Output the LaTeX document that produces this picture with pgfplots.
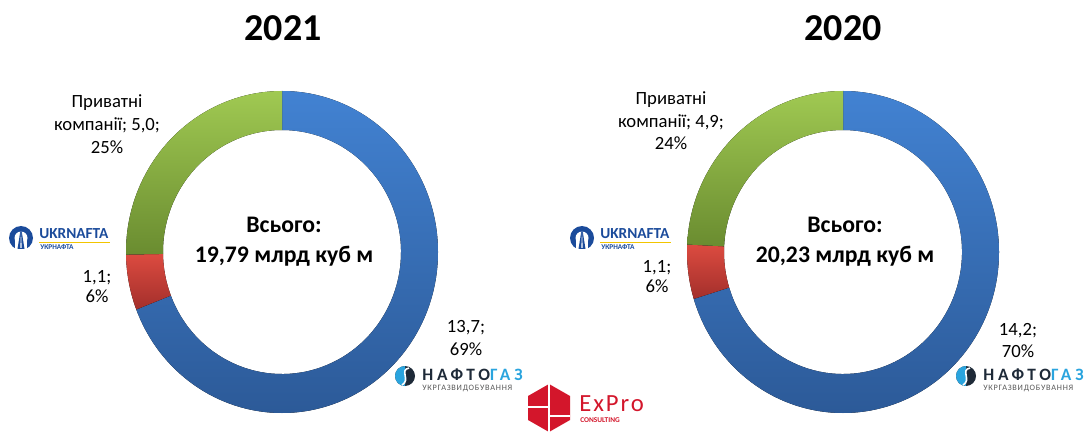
\documentclass[border=0pt]{standalone}
\usepackage{fontspec}
\setmainfont{Carlito}
\usepackage{pgfplots}
\pgfplotsset{compat=1.18}
\usepackage{pgfplotstable}

% production, bcm
\pgfplotstableread{
company value pct
Naftogaz 13.7 69
Ukrnafta 1.1 6
Private 5.0 25
}\dataA
\pgfplotstableread{
company value pct
Naftogaz 14.2 70
Ukrnafta 1.1 6
Private 4.9 24
}\dataB

\definecolor{blueT}{HTML}{4282D2}
\definecolor{blueB}{HTML}{2C5A98}
\definecolor{redT}{HTML}{DC4B40}
\definecolor{redB}{HTML}{A32F2B}
\definecolor{greenT}{HTML}{A0C952}
\definecolor{greenB}{HTML}{6A8C30}
\definecolor{ukblue}{HTML}{1B4B9B}
\definecolor{ukyellow}{HTML}{F2C500}
\definecolor{ngdark}{HTML}{1E2A38}
\definecolor{ngblue}{HTML}{2AA4DE}
\definecolor{exred}{HTML}{D3162B}

\newcommand\Rx{156}\newcommand\Ry{161}
\newcommand\rx{119}\newcommand\ry{122}

% cumulative angles from the table, clockwise from 12 o'clock
\newcommand\angles[2]{%
  \pgfplotstablegetelem{0}{value}\of#1\let\vA\pgfplotsretval
  \pgfplotstablegetelem{1}{value}\of#1\let\vB\pgfplotsretval
  \pgfplotstablegetelem{2}{value}\of#1\let\vC\pgfplotsretval
  \pgfmathsetmacro\tot{\vA+\vB+\vC}%
  \pgfmathsetmacro\aone{90-360*\vA/\tot}%
  \pgfmathsetmacro\atwo{\aone-360*\vB/\tot}%
  \expandafter\xdef\csname #2one\endcsname{\aone}%
  \expandafter\xdef\csname #2two\endcsname{\atwo}%
}

\newcommand\sector[6]{%
  \fill[top color=#5, bottom color=#6]
    (axis cs:{#1+\Rx*cos(#3)},{#2+\Ry*sin(#3)})
    arc[start angle=#3, end angle=#4, x radius=\Rx, y radius=\Ry]
    -- (axis cs:{#1+\rx*cos(#4)},{#2+\ry*sin(#4)})
    arc[start angle=#4, end angle=#3, x radius=\rx, y radius=\ry] -- cycle;}

\newcommand\donut[3]{%
  \sector{#1}{#2}{90}{\csname #3one\endcsname}{blueT}{blueB}
  \sector{#1}{#2}{\csname #3one\endcsname}{\csname #3two\endcsname}{redT}{redB}
  \sector{#1}{#2}{\csname #3two\endcsname}{-270}{greenT}{greenB}}

\newcommand\lbl[3]{\node[anchor=base, inner sep=0pt, font=\fontsize{14}{16}\selectfont] at (axis cs:#1,#2) {#3};}

\newcommand\ukrnafta[1]{%
  \fill[ukblue] (axis cs:#1+21,198) circle[radius=12];
  \fill[white] (axis cs:#1+21,198) circle[radius=6.5];
  \fill[white] (axis cs:#1+15,185) rectangle (axis cs:#1+27,196);
  \fill[ukblue] (axis cs:#1+21,209) -- (axis cs:#1+17.5,187) -- (axis cs:#1+24.5,187) -- cycle;
  \fill[white] (axis cs:#1+21,205) -- (axis cs:#1+20.3,188) -- (axis cs:#1+21.7,188) -- cycle;
  \node[anchor=base west, inner sep=0pt, text=ukblue, font=\fontsize{11.5}{12}\selectfont\bfseries] at (axis cs:#1+39,197) {UKRNAFTA};
  \draw[ukyellow, line width=0.8pt] (axis cs:#1+39,193.5) -- (axis cs:#1+110,193.5);
  \node[anchor=base west, inner sep=0pt, text=ukblue, font=\fontsize{5.5}{6}\selectfont\bfseries] at (axis cs:#1+40,186) {УКРНАФТА};}

\newcommand\naftogaz[2]{%
  \fill[ngdark] (axis cs:#1,#2) circle[radius=10];
  \fill[ngblue] (axis cs:#1,#2+10) arc[start angle=90, end angle=270, radius=10] -- cycle;
  \draw[white, line width=1.2pt] (axis cs:#1+4,#2+8) .. controls (axis cs:#1-6,#2+6) and (axis cs:#1+6,#2-4) .. (axis cs:#1-3,#2-9);
  \node[anchor=base west, inner sep=0pt, font=\fontsize{13}{13}\selectfont\bfseries] at (axis cs:#1+17,#2-4)
    {\addfontfeatures{LetterSpace=22}\textcolor{ngdark}{НАФТО}\textcolor{ngblue}{ГАЗ}};
  \node[anchor=base west, inner sep=0pt, text=black!65, font=\fontsize{6.2}{7}\selectfont] at (axis cs:#1+17,#2-14)
    {\addfontfeatures{LetterSpace=9}УКРГАЗВИДОБУВАННЯ};}

\begin{document}
\begin{tikzpicture}
\angles{\dataA}{L}
\angles{\dataB}{R}
\begin{axis}[
  width=813.75pt, height=327pt, scale only axis,
  xmin=0, xmax=1085, ymin=0, ymax=436,
  hide axis, clip=false, disabledatascaling,
]
\path (axis cs:0,0) rectangle (axis cs:1085,436);
\donut{282}{184}{L}
\donut{843}{184}{R}

% titles
\node[anchor=base, inner sep=0pt, font=\fontsize{28.5}{34}\selectfont\bfseries] at (axis cs:283,395) {2021};
\node[anchor=base, inner sep=0pt, font=\fontsize{28.5}{34}\selectfont\bfseries] at (axis cs:843,395) {2020};

% totals
\node[anchor=base, inner sep=0pt, font=\fontsize{17.8}{20}\selectfont\bfseries] at (axis cs:284,203) {Всього:};
\node[anchor=base, inner sep=0pt, font=\fontsize{17.8}{20}\selectfont\bfseries] at (axis cs:284,173) {19,79 млрд куб м};
\node[anchor=base, inner sep=0pt, font=\fontsize{17.8}{20}\selectfont\bfseries] at (axis cs:845,203) {Всього:};
\node[anchor=base, inner sep=0pt, font=\fontsize{17.8}{20}\selectfont\bfseries] at (axis cs:845,173) {20,23 млрд куб м};

% data labels 2021
\lbl{107}{328}{Приватні}
\lbl{107}{305}{компанії; 5,0;}
\lbl{107}{282}{25\%}
\lbl{97}{154}{1,1;}
\lbl{97}{133}{6\%}
\lbl{466}{104}{13,7;}
\lbl{466}{81}{69\%}
% data labels 2020
\lbl{671}{331}{Приватні}
\lbl{671}{308}{компанії; 4,9;}
\lbl{671}{286}{24\%}
\lbl{657}{164}{1,1;}
\lbl{657}{143}{6\%}
\lbl{1018}{101}{14,2;}
\lbl{1018}{79}{70\%}

% logos
\ukrnafta{0}
\ukrnafta{561}
\naftogaz{405}{60}
\naftogaz{966}{60}

\fill[exred] (axis cs:549,52) -- (axis cs:570,40) -- (axis cs:570,16) -- (axis cs:549,4) -- (axis cs:528,16) -- (axis cs:528,40) -- cycle;
\draw[white, line width=1pt] (axis cs:549,52) -- (axis cs:549,4);
\draw[white, line width=1pt] (axis cs:528,29) -- (axis cs:549,29);
\draw[white, line width=1pt] (axis cs:549,20) -- (axis cs:570,20);
\node[anchor=base west, inner sep=0pt, text=exred, font=\fontsize{18.5}{20}\selectfont] at (axis cs:579,25) {\addfontfeatures{LetterSpace=8}ExPro};
\node[anchor=base west, inner sep=0pt, text=exred, font=\fontsize{5.5}{6}\selectfont\bfseries] at (axis cs:580,14) {CONSULTING};
\end{axis}
\end{tikzpicture}
\end{document}
